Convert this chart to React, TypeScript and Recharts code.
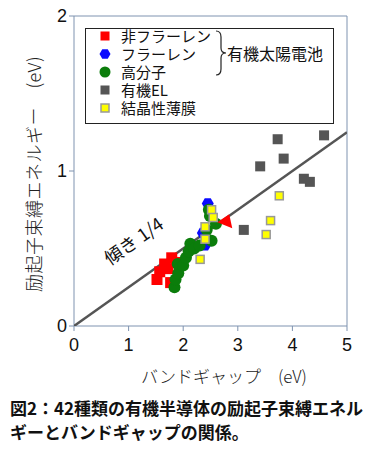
import React from 'react';
import { ScatterChart, Scatter, XAxis, YAxis, ReferenceLine } from 'recharts';

// Bandgap (x) and exciton binding energy (y), eV
const nonFullereneX = [1.52, 1.57, 1.66, 1.72, 1.79, 1.77, 1.87];
const nonFullereneY = [0.30, 0.35, 0.40, 0.37, 0.44, 0.28, 0.41];
const nonFullereneExtraX = [2.77];
const nonFullereneExtraY = [0.67];
const fullereneX = [2.45, 2.36, 2.40];
const fullereneY = [0.79, 0.60, 0.52];
const polymerX = [1.84, 1.86, 1.91, 1.90, 2.00, 2.05, 2.10, 2.13, 2.20, 2.30, 2.43, 2.52, 2.60, 2.49, 2.47];
const polymerY = [0.25, 0.30, 0.34, 0.40, 0.39, 0.44, 0.48, 0.53, 0.50, 0.52, 0.62, 0.55, 0.66, 0.71, 0.75];
const oledX = [3.73, 4.58, 3.84, 3.41, 4.21, 4.32, 3.11];
const oledY = [1.205, 1.23, 1.08, 1.03, 0.95, 0.93, 0.62];
const crystalX = [2.52, 2.55, 2.40, 2.40, 2.31, 3.76, 3.60, 3.52];
const crystalY = [0.75, 0.70, 0.64, 0.56, 0.43, 0.84, 0.68, 0.59];
const slopeLineX = [0, 5];
const slopeLineY = [0, 1.25];
const xTicks = [0, 1, 2, 3, 4, 5];
const yTicks = [0, 1, 2];

const legendLabels = ['非フラーレン', 'フラーレン', '高分子', '有機EL', '結晶性薄膜'];
const groupLabel = '有機太陽電池';
const slopeLabel = '傾き 1/4';
const xLabel = 'バンドギャップ\u3000(eV)';
const yLabel = '励起子束縛エネルギー\u3000(eV)';
const captionLines = ['図2：42種類の有機半導体の励起子束縛エネル', 'ギーとバンドギャップの関係。'];

const zip = (xs: number[], ys: number[]) => xs.map((x, i) => ({ x, y: ys[i] }));

const RED = '#ff0000';
const BLUE = '#0a0aff';
const GREEN = '#0b7d0b';
const GRAY = '#555555';
const YELLOW = '#ffff00';
const AXIS = '#7f93b0';

const hexPoints = (cx: number, cy: number, r: number) =>
  Array.from({ length: 6 }, (_, i) => {
    const a = (Math.PI / 3) * i;
    return `${cx + r * Math.cos(a)},${cy + r * Math.sin(a)}`;
  }).join(' ');

const RedSquare = (p: any) => <rect x={p.cx - 5.5} y={p.cy - 5.5} width={11} height={11} fill={RED} />;
const RedTri = (p: any) => (
  <polygon points={`${p.cx - 8},${p.cy} ${p.cx + 4},${p.cy - 8} ${p.cx + 7},${p.cy + 6}`} fill={RED} />
);
const BlueHex = (p: any) => <polygon points={hexPoints(p.cx, p.cy, 6)} fill={BLUE} />;
const GreenCircle = (p: any) => <circle cx={p.cx} cy={p.cy} r={6} fill={GREEN} />;
const GraySquare = (p: any) => <rect x={p.cx - 5} y={p.cy - 5} width={10} height={10} fill={GRAY} />;
const YellowSquare = (p: any) => (
  <rect x={p.cx - 4} y={p.cy - 4} width={8} height={8} fill={YELLOW} stroke="#999" strokeWidth={1.5} />
);
const Nothing = () => <g />;

const jp = '"Noto Sans CJK JP", "Noto Sans", sans-serif';
const num = '"Liberation Sans", Arial, sans-serif';

const LegendMarker = ({ i, top }: { i: number; top: number }) => {
  const s = 12;
  return (
    <svg width={s} height={s} style={{ position: 'absolute', left: 99, top: top - 6 }}>
      {i === 0 && <rect x={1.5} y={1.5} width={9} height={9} fill={RED} />}
      {i === 1 && <polygon points={hexPoints(6, 6, 5.5)} fill={BLUE} />}
      {i === 2 && <circle cx={6} cy={6} r={5.5} fill={GREEN} />}
      {i === 3 && <rect x={1.5} y={1.5} width={9} height={9} fill={GRAY} />}
      {i === 4 && <rect x={2} y={2} width={8} height={8} fill={YELLOW} stroke="#999" strokeWidth={1.5} />}
    </svg>
  );
};

export default function App() {
  const rowY = [36, 54, 72, 90, 108];
  return (
    <div style={{ position: 'absolute', left: 0, top: 0, width: 377, height: 456, background: '#fff' }}>
      <ScatterChart width={377} height={456} margin={{ top: 16, right: 30, left: 0, bottom: 0 }}>
        <XAxis
          type="number"
          dataKey="x"
          domain={[0, 5]}
          ticks={xTicks}
          allowDataOverflow
          height={130}
          tickSize={5}
          tickMargin={7}
          stroke={AXIS}
          tick={{ fill: '#111', fontSize: 18, fontFamily: num }}
        />
        <YAxis
          type="number"
          dataKey="y"
          domain={[0, 2]}
          ticks={yTicks}
          allowDataOverflow
          width={74}
          tickSize={5}
          tickMargin={2}
          stroke={AXIS}
          tick={{ fill: '#111', fontSize: 18, fontFamily: num }}
        />
        <ReferenceLine y={2} stroke={AXIS} strokeWidth={1} />
        <ReferenceLine x={5} stroke={AXIS} strokeWidth={1} />
        <Scatter
          data={zip(slopeLineX, slopeLineY)}
          line={{ stroke: '#555', strokeWidth: 2.5 }}
          shape={Nothing}
          isAnimationActive={false}
        />
        <Scatter data={zip(nonFullereneX, nonFullereneY)} shape={RedSquare} isAnimationActive={false} />
        <Scatter data={zip(fullereneX, fullereneY)} shape={BlueHex} isAnimationActive={false} />
        <Scatter data={zip(polymerX, polymerY)} shape={GreenCircle} isAnimationActive={false} />
        <Scatter data={zip(nonFullereneExtraX, nonFullereneExtraY)} shape={RedTri} isAnimationActive={false} />
        <Scatter data={zip(crystalX, crystalY)} shape={YellowSquare} isAnimationActive={false} />
        <Scatter data={zip(oledX, oledY)} shape={GraySquare} isAnimationActive={false} />
      </ScatterChart>

      {/* Legend */}
      <div
        style={{
          position: 'absolute',
          left: 85,
          top: 28,
          width: 247,
          height: 94,
          border: '1.5px solid #222',
          background: '#fff',
        }}
      />
      {legendLabels.map((t, i) => (
        <LegendMarker key={t} i={i} top={rowY[i]} />
      ))}
      <div
        style={{
          position: 'absolute',
          left: 121,
          top: rowY[0] - 9,
          fontFamily: jp,
          fontSize: 15,
          lineHeight: '18px',
          whiteSpace: 'pre',
          color: '#111',
        }}
      >
        {legendLabels.join('\n')}
      </div>
      <svg width={14} height={50} style={{ position: 'absolute', left: 214, top: 29 }}>
        <path
          d="M2,2 Q7,2 7,8 L7,19 Q7,24 12,24 Q7,24 7,29 L7,40 Q7,46 2,46"
          fill="none"
          stroke="#222"
          strokeWidth={1.2}
        />
      </svg>
      <div
        style={{
          position: 'absolute',
          left: 227,
          top: 44,
          fontFamily: jp,
          fontSize: 16,
          lineHeight: '18px',
          whiteSpace: 'nowrap',
          color: '#111',
        }}
      >
        {groupLabel}
      </div>

      {/* Slope label */}
      <div
        style={{
          position: 'absolute',
          left: 133,
          top: 240,
          transform: 'translate(-50%, -50%) rotate(-35deg)',
          fontFamily: jp,
          fontSize: 18,
          whiteSpace: 'nowrap',
          color: '#111',
        }}
      >
        {slopeLabel}
      </div>

      {/* Axis titles */}
      <div
        style={{
          position: 'absolute',
          left: 33,
          top: 174,
          transform: 'translate(-50%, -50%) rotate(-90deg)',
          fontFamily: jp,
          fontSize: 18,
          letterSpacing: '0.5px',
          fontWeight: 300,
          whiteSpace: 'nowrap',
          color: '#222',
        }}
      >
        {yLabel}
      </div>
      <div
        style={{
          position: 'absolute',
          left: 224,
          top: 375,
          transform: 'translate(-50%, -50%)',
          fontFamily: jp,
          fontSize: 17,
          fontWeight: 300,
          whiteSpace: 'nowrap',
          color: '#222',
        }}
      >
        {xLabel}
      </div>

      {/* Caption */}
      <div
        style={{
          position: 'absolute',
          left: 10,
          top: 396,
          fontFamily: jp,
          fontSize: 17,
          fontWeight: 700,
          lineHeight: '24px',
          whiteSpace: 'pre',
          color: '#111',
        }}
      >
        {captionLines.join('\n')}
      </div>
    </div>
  );
}
